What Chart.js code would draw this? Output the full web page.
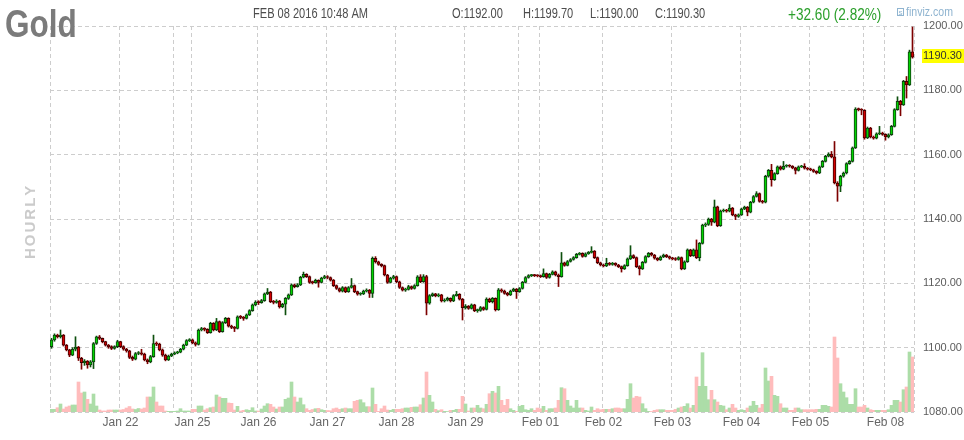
<!DOCTYPE html>
<html>
<head>
<meta charset="utf-8">
<script src="https://cdn.jsdelivr.net/npm/chart.js@4.4.1/dist/chart.umd.min.js"></script>
<style>
  html, body { margin: 0; padding: 0; background: #fff; }
  #wrap { position: relative; width: 964px; height: 440px; }
</style>
</head>
<body>
<div id="wrap"><canvas id="chart" width="964" height="440"></canvas></div>
<script>
// hourly sessions shown on the x axis (blank label = sunday evening session)
const sessionLabels = ["", "Jan 22", "", "Jan 25", "Jan 26", "Jan 27", "Jan 28", "Jan 29", "", "Feb 01", "Feb 02", "Feb 03", "Feb 04", "Feb 05", "", "Feb 08"];
const sessionBars = [23, 18, 6, 22, 23, 23, 23, 18, 7, 21, 23, 23, 23, 18, 7, 10];

// open of the first bar; every other bar opens at the previous close
const firstOpen = 1100.3;

const close = [
  1102.4,1103.9,1103.4,1103.9,1100.8,1099.3,1097.7,1099.5,1100.2,1096.7,1095.3,1095.8,1094.6,1095.6,1101.3,1103.4,1102.9,1101.9,1100.8,1100.3,1099.8,1100.3,1101.9,
  1100.3,1099.5,1099.0,1097.0,1096.4,1098.2,1098.4,1098.0,1096.2,1095.6,1097.2,1101.3,1101.1,1099.3,1097.7,1096.2,1097.4,1098.0,
  1098.4,1098.6,1099.5,1100.8,1102.2,1102.4,
  1101.5,1101.0,1105.5,1105.9,1105.7,1104.7,1107.6,1105.5,1108.1,1105.0,1107.8,1109.1,1106.7,1106.3,1106.0,1109.6,1109.4,1109.1,1110.2,1111.5,1113.3,1114.2,
  1114.0,1114.6,1116.7,1117.3,1114.3,1114.1,1114.5,1112.7,1113.5,1115.3,1116.4,1119.5,1119.0,1119.5,1121.9,1122.8,1122.1,1120.3,1120.2,1120.9,1120.3,1121.6,1122.1,
  1121.8,1121.0,1119.3,1118.4,1117.6,1118.7,1117.4,1118.7,1119.3,1117.4,1116.6,1116.7,1117.6,1117.9,1116.9,1127.8,1126.7,1125.9,1125.5,1122.6,1120.3,1121.6,1122.1,
  1120.5,1118.7,1117.9,1118.1,1119.0,1118.4,1119.3,1122.0,1120.5,1122.1,1113.8,1116.2,1116.7,1116.1,1116.4,1114.5,1114.8,1115.3,1114.5,1116.2,1116.6,1115.1,1112.4,
  1112.9,1112.2,1113.3,1111.5,1111.6,1112.5,1111.9,1115.1,1114.3,1115.3,1111.8,1118.0,1117.6,1116.9,1116.4,1117.6,1118.2,1117.4,
  1118.4,1120.3,1121.8,1122.4,1122.5,1122.4,1122.3,
  1122.1,1123.0,1121.8,1122.8,1123.6,1122.6,1122.1,1126.4,1125.6,1126.8,1127.4,1128.0,1129.0,1129.3,1128.4,1129.2,1129.6,1130.0,1128.0,1126.4,1125.7,
  1125.4,1126.2,1125.9,1126.2,1125.7,1125.2,1124.5,1125.5,1127.6,1128.6,1128.0,1125.2,1124.5,1126.5,1128.3,1129.3,1128.8,1127.8,1127.3,1128.2,1128.8,1128.3,1127.8,
  1127.6,1127.4,1128.0,1124.5,1126.7,1130.4,1128.6,1130.4,1128.0,1132.4,1138.1,1138.3,1140.0,1139.0,1143.8,1137.9,1142.5,1142.8,1142.4,1143.4,1141.3,1140.8,1141.3,
  1143.1,1143.7,1142.1,1145.2,1147.0,1147.9,1145.5,1145.2,1153.3,1155.1,1152.2,1154.1,1156.2,1155.5,1156.4,1156.6,1156.4,1155.9,1155.1,1156.2,1156.4,1155.8,1155.5,
  1155.3,1154.8,1154.3,1156.2,1157.9,1159.5,1160.2,1159.3,1151.2,1150.2,1153.3,1154.3,1157.2,1157.9,1162.1,1174.2,1174.0,1173.8,
  1165.2,1168.3,1165.5,1165.1,1166.5,1166.7,1166.3,
  1165.5,1166.2,1168.8,1174.0,1176.6,1175.5,1182.8,1181.7,1192.0,1190.3
];
const high = [
  1102.9,1104.3,1104.2,1105.5,1104.1,1101.0,1099.5,1100.0,1103.4,1100.4,1097.0,1096.3,1096.0,1096.0,1101.6,1103.6,1103.8,1103.0,1102.0,1101.0,1100.6,1100.6,1102.3,
  1102.0,1100.6,1099.8,1099.2,1097.4,1098.5,1098.8,1099.5,1098.3,1096.5,1097.6,1103.9,1101.8,1101.4,1099.6,1098.0,1097.7,1098.3,
  1098.7,1098.9,1099.8,1101.1,1102.5,1102.8,
  1102.7,1101.8,1105.8,1106.3,1106.2,1105.9,1107.9,1107.8,1109.1,1108.3,1108.1,1109.4,1109.3,1107.0,1106.6,1109.9,1110.0,1109.7,1110.5,1111.8,1113.6,1114.6,
  1114.6,1115.0,1117.0,1118.4,1117.5,1114.7,1114.9,1114.7,1113.8,1115.6,1116.7,1119.8,1119.8,1119.9,1122.2,1123.5,1123.0,1122.3,1120.7,1121.3,1121.1,1121.9,1122.5,
  1122.4,1122.0,1121.2,1119.5,1118.6,1119.0,1118.9,1119.0,1121.5,1119.5,1117.6,1117.1,1117.9,1118.3,1118.1,1128.2,1128.3,1126.9,1126.1,1125.7,1122.8,1121.9,1122.5,
  1122.3,1120.7,1118.9,1118.5,1119.4,1119.2,1119.6,1122.4,1122.7,1122.7,1122.5,1116.5,1117.0,1116.9,1116.8,1116.6,1115.2,1115.7,1115.5,1116.5,1117.5,1116.8,1115.3,
  1113.4,1113.1,1113.6,1113.5,1112.0,1112.8,1112.7,1115.5,1115.4,1115.6,1115.5,1118.4,1118.3,1117.9,1117.2,1117.9,1118.5,1118.4,
  1118.7,1120.6,1122.1,1122.7,1122.8,1122.8,1122.7,
  1122.6,1124.5,1123.2,1123.1,1123.9,1123.8,1122.9,1129.6,1126.6,1127.1,1127.7,1128.3,1129.3,1129.6,1129.5,1129.5,1129.9,1131.4,1130.2,1128.2,1126.6,
  1126.0,1127.8,1126.5,1126.5,1126.4,1125.9,1125.4,1125.8,1127.9,1131.7,1128.9,1128.2,1125.5,1126.8,1128.6,1129.6,1129.6,1129.0,1128.0,1128.5,1129.1,1129.0,1128.5,
  1128.1,1128.0,1128.3,1128.2,1127.0,1130.7,1130.6,1130.7,1133.5,1132.7,1138.4,1138.8,1140.3,1140.2,1145.9,1144.0,1142.8,1143.1,1143.0,1144.5,1143.6,1141.5,1141.6,
  1143.4,1144.0,1143.9,1145.5,1147.3,1148.5,1148.1,1145.8,1153.6,1155.4,1157.0,1154.4,1156.5,1156.5,1157.9,1156.9,1156.9,1156.6,1156.1,1156.5,1156.7,1157.2,1156.0,
  1155.8,1155.5,1155.0,1156.5,1158.2,1159.8,1160.6,1161.0,1164.1,1151.6,1153.6,1154.6,1157.5,1158.2,1162.4,1174.6,1174.5,1174.3,
  1174.0,1168.6,1168.5,1165.8,1166.8,1168.8,1167.0,
  1166.5,1166.5,1169.1,1174.3,1178.0,1176.9,1183.1,1184.3,1192.5,1199.7
];
const low = [
  1099.8,1102.0,1103.0,1103.0,1100.5,1099.0,1097.2,1097.5,1099.0,1096.0,1093.3,1094.5,1093.6,1094.0,1093.5,1101.0,1102.5,1101.5,1100.5,1099.8,1099.4,1099.5,1100.0,
  1100.0,1099.2,1098.6,1096.6,1096.0,1096.2,1097.8,1097.7,1095.9,1095.0,1095.3,1097.0,1100.6,1099.0,1097.3,1095.9,1096.0,1097.2,
  1097.8,1098.1,1098.4,1099.3,1100.6,1101.9,
  1101.2,1100.5,1100.8,1105.2,1105.2,1104.4,1104.5,1105.2,1105.3,1104.7,1104.8,1107.5,1106.4,1105.9,1105.0,1105.8,1109.0,1108.5,1108.9,1110.0,1111.3,1113.0,
  1113.4,1113.8,1114.4,1116.5,1114.0,1113.6,1113.8,1112.3,1112.4,1110.2,1115.0,1116.2,1118.6,1118.8,1119.3,1121.7,1121.8,1120.0,1119.8,1120.0,1118.8,1120.1,1121.4,
  1121.4,1120.7,1119.0,1118.1,1117.3,1117.3,1117.1,1117.2,1118.5,1117.1,1116.3,1116.3,1116.5,1117.3,1115.6,1115.6,1126.3,1125.6,1125.1,1122.3,1120.0,1120.1,1121.3,
  1120.2,1118.4,1117.6,1117.5,1117.9,1118.1,1118.2,1119.1,1120.2,1120.3,1110.2,1113.5,1115.9,1115.8,1115.8,1114.2,1114.2,1114.5,1114.2,1114.3,1116.0,1114.8,1108.6,
  1112.0,1111.9,1112.0,1111.2,1111.0,1111.3,1111.6,1111.7,1114.0,1113.9,1111.4,1111.6,1117.2,1116.6,1116.1,1116.2,1117.4,1115.3,
  1117.2,1118.2,1120.1,1121.6,1122.1,1122.1,1122.0,
  1121.8,1121.9,1121.5,1121.6,1122.6,1122.3,1119.0,1121.9,1125.3,1125.4,1126.6,1127.2,1127.8,1128.8,1128.1,1128.2,1129.0,1129.4,1127.7,1126.1,1125.4,
  1125.1,1125.2,1125.6,1125.6,1125.4,1124.9,1123.5,1124.3,1125.3,1127.4,1127.7,1124.9,1122.6,1124.3,1126.3,1128.1,1128.5,1127.5,1127.0,1127.1,1128.0,1128.0,1127.5,
  1127.3,1127.1,1127.2,1124.2,1124.3,1126.5,1128.3,1128.4,1127.7,1127.0,1132.2,1137.6,1138.0,1138.0,1138.8,1137.6,1137.7,1142.2,1142.1,1142.2,1141.0,1139.8,1140.5,
  1141.1,1142.9,1141.0,1141.9,1145.0,1146.8,1145.2,1144.9,1145.0,1153.0,1150.2,1152.0,1153.9,1155.2,1155.3,1156.1,1156.1,1155.6,1154.0,1154.9,1156.0,1155.5,1155.2,
  1155.0,1154.5,1154.0,1154.1,1156.0,1157.7,1159.3,1159.0,1150.9,1145.5,1148.5,1153.0,1154.0,1157.0,1157.7,1161.9,1173.6,1172.4,
  1164.8,1165.0,1165.2,1164.8,1164.9,1166.2,1166.0,
  1164.5,1165.2,1166.0,1168.6,1173.8,1172.1,1175.3,1177.6,1181.5,1190.0
];
// volume, relative units
const volume = [
  2.7,2.7,4.3,8,3,5,6,7,7,30,19,20,12.7,8,18,6,2,1,1,2,2,2,2,
  2,2.5,4,5.5,3,2.5,3.5,3,4,15,15,25,10,6,6,1,0.7,0.7,
  0.7,1,3.3,1,1,1,
  2.7,2.7,6,6,2,3.3,4.3,5,17,15,13.7,13.7,9,8.7,2,5.7,1,1.7,2.3,1.7,4.3,1,
  1,3,6,8.3,7.7,5,3,5,5,12.7,14,30,15,10,14,7.3,3.3,1.7,2.5,3.3,3.7,2.3,1.7,
  1.5,1.3,3.3,4,2.7,3.3,4,3.3,3.3,10.7,11.7,12.3,9.3,5.3,5.3,24,7.7,0.7,3.3,6,2,1.7,2.7,
  2.7,2.7,3.3,4,4,4.7,5,5,7.3,14,40,16.7,10,2.7,1.3,2.3,0.7,0.5,1.7,1.7,2.7,2.7,15.7,
  8,1,4,4,6.7,4,3.3,7.7,18.3,20.7,19,25.7,11.7,6.7,12.7,3.3,1.7,0.7,
  5.7,6.7,2.3,1.7,3.3,1.7,4,
  3.3,5.7,1.7,3.3,3.3,4,11.7,24.3,23.3,11.7,6,4,11.7,4,4,1.7,1,5,1.7,3.3,2.3,
  2.7,2.7,2.7,3.3,4,4,3.3,3.3,12.7,28.3,14,15.7,15,8.3,3.3,0.7,0.5,1.7,2.3,2.3,2.3,1.7,1.7,
  1.7,2.7,4,5,5.7,8.3,4,6.7,35,25.7,59.3,25.7,12.3,21.7,12.3,10,6.7,6,2.3,4,7.7,4,1.7,
  2.3,1.7,4,6,10.7,6.7,4,7.7,44,31,35.7,16.7,15.7,8.3,4,4,1.7,1.7,4,4,2.3,2.3,2.3,
  2.3,2.3,2.7,2.7,6.7,6.7,5.7,5,75,54,28.3,20,14.3,7.7,7.7,23.3,5,5,
  6.7,4,2.3,1.7,1.7,1.7,1.7,
  1.7,2.3,6.7,11.7,11.7,10,22.3,25,60,55
];

const priceMin = 1080;
const priceMax = 1200;
const priceStep = 20;
const volumeMax = 386;

const title = "Gold";
const stamp = "FEB 08 2016 10:48 AM";
const ohlcText = ["O:1192.00", "H:1199.70", "L:1190.00", "C:1190.30"];
const changeText = "+32.60 (2.82%)";

function hasFont(name) {
  const c = document.createElement("canvas").getContext("2d");
  c.font = "20px monospace";
  const a = c.measureText("1200.00 Jan 22").width;
  c.font = '20px "' + name + '", monospace';
  return c.measureText("1200.00 Jan 22").width !== a;
}
const narrow = hasFont("Liberation Sans Narrow");
const FAMILY = narrow ? '"Liberation Sans Narrow", "Liberation Sans", Arial, sans-serif' : '"Liberation Sans", Arial, sans-serif';
const YSIZE = narrow ? 12 : 11;

const labels = [];
const gridIdx = new Set();
let count = 0;
sessionBars.forEach((bars, s) => {
  for (let k = 0; k < bars; k++) labels.push(k === 0 ? sessionLabels[s] : "");
  gridIdx.add(count);
  count += bars;
});

const open = close.map((c, i) => (i === 0 ? firstOpen : close[i - 1]));
const up = close.map((c, i) => c >= open[i]);

const GRID = "#cdcdcd";

function drawText(ctx, s, x, y, size, color, bold, sx) {
  ctx.save();
  ctx.font = (bold ? "bold " : "") + size + 'px "Liberation Sans", Arial, sans-serif';
  ctx.fillStyle = color;
  ctx.textBaseline = "alphabetic";
  ctx.translate(x, y);
  ctx.scale(sx, 1);
  ctx.fillText(s, 0, 0);
  ctx.restore();
}

const decorPlugin = {
  id: "decor",
  afterDraw(chart) {
    const ctx = chart.ctx;
    const area = chart.chartArea;
    drawText(ctx, title, 5, 37, 38, "#7b7b7b", true, 0.83);
    drawText(ctx, stamp, 253, 18, 14, "#4d4d4d", false, 0.79);
    const ox = [452, 523, 590, 655];
    ohlcText.forEach((t, i) => drawText(ctx, t, ox[i], 18, 14, "#4d4d4d", false, 0.79));
    drawText(ctx, changeText, 788, 20, 17, "#2b9f2b", false, 0.8);

    // finviz mark
    ctx.save();
    ctx.strokeStyle = "#8fb4d0";
    ctx.lineWidth = 1;
    ctx.strokeRect(897.5, 8.5, 6, 7);
    ctx.restore();
    drawText(ctx, "s", 898.5, 15, 8, "#8fb4d0", false, 1);
    drawText(ctx, "finviz.com", 906, 16, 12, "#8fb4d0", false, 0.88);

    // vertical HOURLY
    ctx.save();
    ctx.translate(35, 259);
    ctx.rotate(-Math.PI / 2);
    ctx.font = 'bold 15px "Liberation Sans", Arial, sans-serif';
    ctx.fillStyle = "#cbcbcb";
    let x = 0;
    for (const ch of "HOURLY") {
      ctx.fillText(ch, x, 0);
      x += ctx.measureText(ch).width + 2;
    }
    ctx.restore();

    // last price box
    const y = chart.scales.y.getPixelForValue(close[close.length - 1]) - 1.5;
    ctx.save();
    ctx.fillStyle = "#ffff00";
    ctx.fillRect(area.right + 8, Math.round(y - 7), 964 - area.right - 8, 14);
    ctx.fillStyle = "#333";
    ctx.font = YSIZE + "px " + FAMILY;
    ctx.textBaseline = "middle";
    ctx.fillText(close[close.length - 1].toFixed(2), area.right + 9, y + 0.5);
    ctx.restore();
  }
};

Chart.defaults.font.family = FAMILY;
Chart.defaults.font.size = 12;

new Chart(document.getElementById("chart"), {
  type: "bar",
  data: {
    labels: labels,
    datasets: [
      {
        label: "volume",
        yAxisID: "yv",
        data: volume,
        backgroundColor: up.map((u) => (u ? "#acdda8" : "#ffbcbc")),
        barPercentage: 1,
        categoryPercentage: 1,
        grouped: false,
        order: 3
      },
      {
        label: "range",
        data: close.map((c, i) => [low[i], high[i]]),
        backgroundColor: up.map((u) => (u ? "#0d4f0d" : "#7d0000")),
        barThickness: 1,
        grouped: false,
        order: 2
      },
      {
        label: "body",
        data: close.map((c, i) => [open[i], c]),
        backgroundColor: up.map((u) => (u ? "#00d400" : "#d40000")),
        borderColor: up.map((u) => (u ? "#103a10" : "#3d0000")),
        borderWidth: 1,
        borderSkipped: false,
        minBarLength: 1,
        barPercentage: 1,
        categoryPercentage: 1,
        grouped: false,
        order: 1
      }
    ]
  },
  options: {
    responsive: false,
    animation: false,
    devicePixelRatio: 1,
    layout: { padding: { left: 50, top: 26, right: 0, bottom: 10 } },
    plugins: { legend: { display: false }, tooltip: { enabled: false } },
    scales: {
      x: {
        type: "category",
        offset: true,
        grid: {
          offset: true,
          drawTicks: false,
          color: (c) => (c.index === undefined || gridIdx.has(c.index) ? GRID : "rgba(0,0,0,0)")
        },
        border: { display: false, dash: [4, 3] },
        ticks: { autoSkip: false, maxRotation: 0, minRotation: 0, padding: 3, color: "#666", font: { size: 12 } },
        afterFit: (s) => { s.height = 18; }
      },
      y: {
        position: "right",
        min: priceMin,
        max: priceMax,
        grid: { color: GRID, drawTicks: false },
        border: { display: false, dash: [4, 3] },
        ticks: {
          stepSize: priceStep,
          padding: 9,
          color: "#5c5c5c",
          font: { size: YSIZE },
          callback: (v) => v.toFixed(2)
        },
        afterFit: (s) => { s.width = 50; }
      },
      yv: {
        display: false,
        min: 0,
        max: volumeMax
      }
    }
  },
  plugins: [decorPlugin]
});
</script>
</body>
</html>
